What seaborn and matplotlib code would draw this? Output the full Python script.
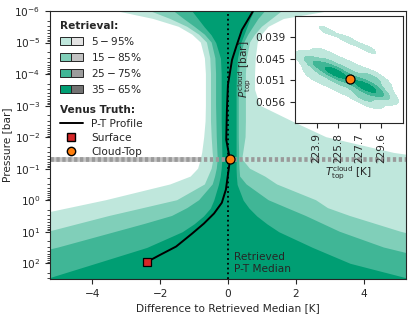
import numpy as np
import pandas as pd
import matplotlib
matplotlib.use("Agg")
import matplotlib.pyplot as plt
import seaborn as sns
from matplotlib.patches import Patch
from matplotlib.lines import Line2D
from matplotlib.legend_handler import HandlerTuple
from matplotlib.colors import ListedColormap
from matplotlib.ticker import LogLocator

sns.set_style("ticks")
plt.rcParams['font.family'] = ['DejaVu Sans']
plt.rcParams['mathtext.fontset'] = 'dejavusans'

# ---------------- data ----------------
pressure = [1e-6, 1.78e-6, 3.16e-6, 5.62e-6, 1e-5, 3.16e-5, 1e-4, 3.16e-4, 1e-3, 3.16e-3,
            1e-2, 3.16e-2, 5.01e-2, 0.1, 0.178, 0.316, 1.0, 1.78, 3.16, 5.62, 10.0, 31.6, 100.0, 316.0]

lo95 = [-3.3, -2.2, -1.45, -1.05, -0.8, -0.68, -0.65, -0.65, -0.65, -0.66,
        -0.7, -0.76, -0.8, -0.88, -1.1, -1.7, -3.6, -4.7, -5.8, -7.0, -8.0, -9.0, -10.0, -11.0]
lo85 = [-2.3, -1.7, -1.2, -0.85, -0.62, -0.52, -0.5, -0.5, -0.5, -0.5,
        -0.48, -0.45, -0.43, -0.48, -0.58, -0.68, -1.5, -2.5, -3.5, -4.4, -5.3, -7.5, -9.5, -11.5]
lo75 = [-1.6, -1.3, -0.98, -0.68, -0.48, -0.37, -0.35, -0.35, -0.35, -0.34,
        -0.33, -0.31, -0.3, -0.33, -0.38, -0.45, -0.85, -1.2, -1.65, -2.45, -3.3, -5.0, -7.0, -9.0]
lo65 = [-1.06, -0.88, -0.7, -0.5, -0.36, -0.22, -0.2, -0.2, -0.2, -0.2,
        -0.19, -0.18, -0.18, -0.2, -0.23, -0.28, -0.42, -0.52, -0.72, -1.0, -1.35, -2.4, -3.9, -5.4]
hi65 = [0.76, 0.65, 0.56, 0.47, 0.38, 0.28, 0.25, 0.24, 0.24, 0.24,
        0.24, 0.24, 0.24, 0.24, 0.25, 0.27, 0.45, 0.62, 0.85, 1.15, 1.5, 2.5, 3.6, 5.4]
hi75 = [1.1, 0.9, 0.75, 0.6, 0.48, 0.36, 0.33, 0.32, 0.32, 0.32,
        0.32, 0.33, 0.33, 0.34, 0.36, 0.55, 1.2, 1.75, 2.3, 2.8, 3.3, 4.6, 6.5, 8.5]
hi85 = [1.6, 1.3, 1.0, 0.8, 0.65, 0.56, 0.53, 0.53, 0.53, 0.53,
        0.52, 0.45, 0.42, 0.65, 1.1, 1.45, 2.6, 2.95, 3.6, 4.35, 5.1, 7.0, 9.0, 11.0]
hi95 = [3.0, 1.65, 1.2, 1.0, 0.88, 0.82, 0.8, 0.8, 0.95, 1.9,
        2.9, 4.9, 6.2, 9.0, 10.0, 11.0, 12.0, 12.0, 12.0, 12.0, 12.0, 12.0, 12.0, 12.0]

band_labels = [r'$5-95\%$', r'$15-85\%$', r'$25-75\%$', r'$35-65\%$']
band_greens = ['#bfe7dc', '#80cfb9', '#40b696', '#009e73']
band_grays = ['#e3e3e3', '#c2c2c2', '#9c9c9c', '#727272']

truth_T = [0.74, 0.62, 0.41, 0.26, 0.12, 0.0, -0.03, -0.05, 0.06, 0.0, -0.06, -0.18,
           -0.41, -0.71, -1.06, -1.53, -2.03, -2.4]
truth_P = [1e-6, 1.66e-6, 3.98e-6, 1.2e-5, 3.55e-5, 2.19e-4, 1.35e-3, 1.2e-2, 5.25e-2,
           0.155, 0.457, 1.2, 2.63, 5.5, 11.5, 29.5, 56.2, 92.0]
surface_T, surface_P = -2.4, 92.0
cloud_dT, cloud_P = 0.05, 0.0505
cloud_T = 226.85

# inset posterior samples (cloud-top temperature / pressure) and their weights
cloud_T_samples = [223.50, 223.76, 224.38, 225.00, 225.62, 226.23, 226.85, 227.47, 228.09,
                   228.70, 229.32, 229.59,
                   224.75, 224.01, 226.60, 225.86, 228.46, 227.72, 229.16, 228.42,
                   225.35, 225.79, 228.09, 228.44,
                   224.65, 226.67, 228.62]
cloud_P_samples = [0.04583, 0.04619, 0.04706, 0.04791, 0.04876, 0.04963, 0.05048, 0.05133, 0.05220,
                   0.05305, 0.05390, 0.05429,
                   0.04465, 0.04947, 0.04722, 0.05204, 0.04979, 0.05461, 0.05077, 0.05560,
                   0.04839, 0.04900, 0.05220, 0.05271,
                   0.03740, 0.04004, 0.04269]
sample_weights = [1.0] * 20 + [2.0] * 4 + [0.35] * 3
inset_xticks = [223.9, 225.8, 227.7, 229.6]
inset_xticklabels = ['223.9', '225.8', '227.7', '229.6']
inset_yticks = [0.0393, 0.0450, 0.0507, 0.0564]
inset_yticklabels = ['0.039', '0.045', '0.051', '0.056']

FS = 7.6

# ---------------- figure ----------------
fig = plt.figure(figsize=(4.15, 3.16), dpi=100)
ax = fig.add_axes([0.1205, 0.117, 0.8575, 0.848])

bounds = [(lo95, hi95), (lo85, hi85), (lo75, hi75), (lo65, hi65)]
for (lo, hi), col in zip(bounds, band_greens):
    ax.fill_betweenx(pressure, lo, hi, color=col, lw=0, zorder=1)

# cloud-top pressure marker line
ax.axhline(cloud_P, color='#c4c4c4', lw=3.4, zorder=0.5)
ax.axhline(cloud_P, color='#9a9a9a', lw=3.4, ls=(0, (0.7, 0.55)), zorder=2.5)

ax.axvline(0, color='k', ls=':', lw=1.3, zorder=3)
sns.lineplot(x=truth_T, y=truth_P, sort=False, estimator=None, color='k', lw=1.4, ax=ax, zorder=4)
ax.plot([surface_T], [surface_P], marker='s', ls='none', mfc='#d62728', mec='k', ms=6, mew=0.9, zorder=5)
ax.plot([cloud_dT], [cloud_P], marker='o', ls='none', mfc='#ff7f0e', mec='k', ms=6.5, mew=0.9, zorder=5)

ax.text(0.17, 100, 'Retrieved\nP-T Median', ha='left', va='center', fontsize=FS, color='.15', zorder=6)

ax.set_yscale('log')
ax.set_ylim(316, 1e-6)
ax.set_xlim(-5.25, 5.25)
ax.yaxis.set_major_locator(LogLocator(base=10, numticks=20))
ax.yaxis.set_minor_locator(LogLocator(base=10, subs=np.arange(2, 10), numticks=20))
ax.set_xticks([-4, -2, 0, 2, 4])
ax.tick_params(labelsize=FS)
ax.set_xlabel('Difference to Retrieved Median [K]', fontsize=FS, labelpad=3)
ax.set_ylabel('Pressure [bar]', fontsize=FS, labelpad=2)

# legends
ret_handles = [(Patch(fc=g, ec='0.15', lw=0.7), Patch(fc=gr, ec='0.15', lw=0.7))
               for g, gr in zip(band_greens, band_grays)]
leg1 = ax.legend(ret_handles, band_labels, handler_map={tuple: HandlerTuple(ndivide=None, pad=0)},
                 title='Retrieval:', loc='upper left', bbox_to_anchor=(0.0, 1.0), frameon=False,
                 alignment='left', fontsize=FS, title_fontproperties={'weight': 'bold', 'size': FS},
                 handlelength=2.2, handleheight=0.8, labelspacing=0.38, borderaxespad=0.5)
ax.add_artist(leg1)
truth_handles = [Line2D([], [], color='k', lw=1.4),
                 Line2D([], [], marker='s', ls='none', mfc='#d62728', mec='k', ms=6),
                 Line2D([], [], marker='o', ls='none', mfc='#ff7f0e', mec='k', ms=6)]
leg2 = ax.legend(truth_handles, ['P-T Profile', 'Surface', 'Cloud-Top'], title='Venus Truth:',
                 loc='upper left', bbox_to_anchor=(0.0, 0.685), frameon=False, alignment='left',
                 fontsize=FS, title_fontproperties={'weight': 'bold', 'size': FS},
                 handlelength=2.2, labelspacing=0.38, borderaxespad=0.5)

# ---------------- inset ----------------
axins = fig.add_axes([0.711, 0.610, 0.2595, 0.3405])
sns.kdeplot(x=np.array(cloud_T_samples), y=np.array(cloud_P_samples),
            weights=np.array(sample_weights), fill=True,
            levels=[0.05, 0.25, 0.5, 0.8, 1.0], cmap=ListedColormap(band_greens),
            bw_adjust=0.75, gridsize=200, ax=axins)
axins.plot([cloud_T], [cloud_P], marker='o', ls='none', mfc='#ff7f0e', mec='k', ms=6.5, mew=0.9, zorder=5)
axins.set_xlim(222.0, 231.5)
axins.set_ylim(0.0621, 0.0336)
axins.set_xticks(inset_xticks)
axins.set_xticklabels(inset_xticklabels, rotation=90)
axins.set_yticks(inset_yticks)
axins.set_yticklabels(inset_yticklabels)
axins.tick_params(labelsize=FS)
axins.set_xlabel(r'$T_{\rm top}^{\rm cloud}$ [K]', fontsize=FS, labelpad=1)
axins.set_ylabel(r'$P_{\rm top}^{\rm cloud}$ [bar]', fontsize=FS, labelpad=1)
axins.set_facecolor('white')

fig.savefig('out.png', dpi=100)
